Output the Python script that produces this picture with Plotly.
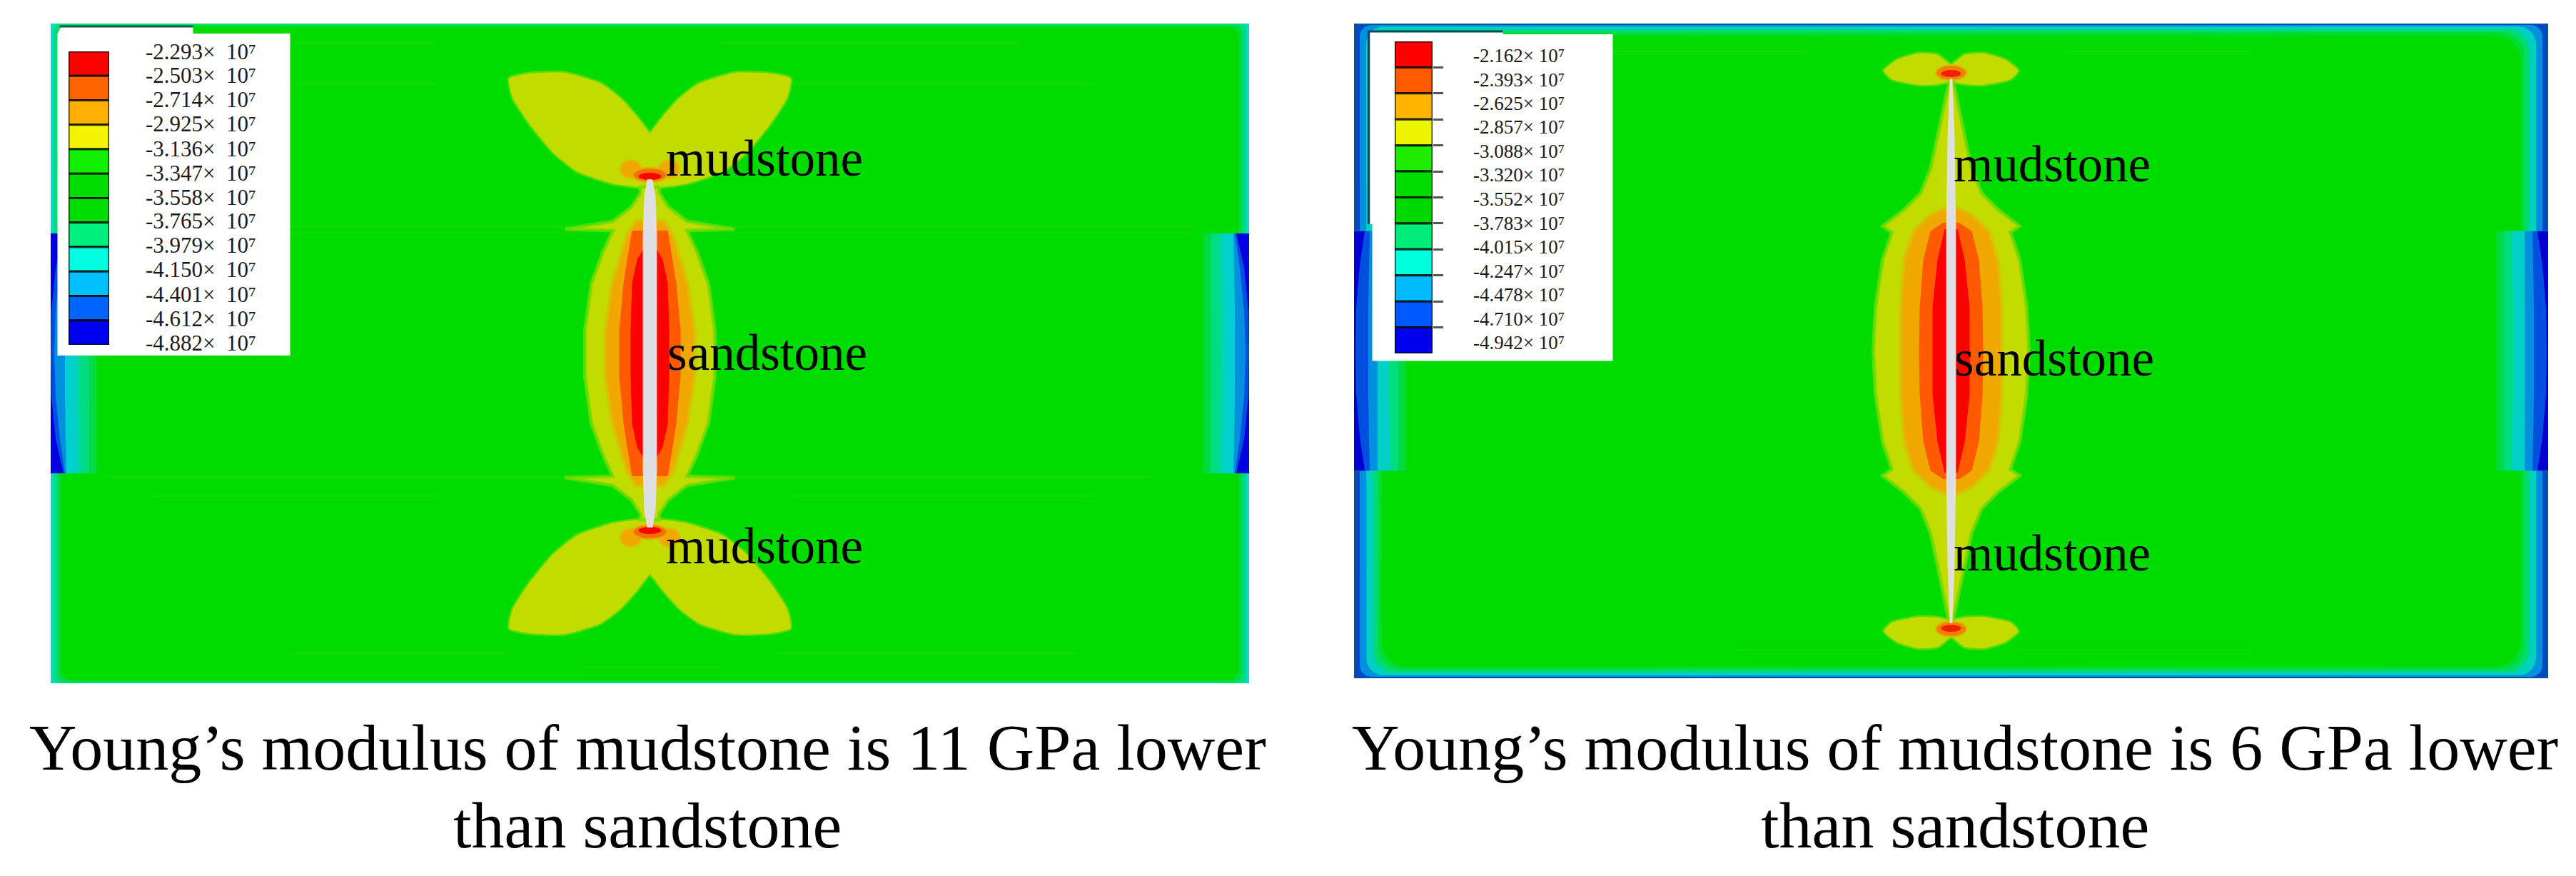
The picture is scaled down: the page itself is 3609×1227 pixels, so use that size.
import math
import plotly.graph_objects as go

W, H = 3609, 1227
FONT = "Liberation Serif"

# ---------- legend values ----------
LEVELS_A = ["-2.293", "-2.503", "-2.714", "-2.925", "-3.136", "-3.347", "-3.558",
            "-3.765", "-3.979", "-4.150", "-4.401", "-4.612", "-4.882"]
LEVELS_B = ["-2.162", "-2.393", "-2.625", "-2.857", "-3.088", "-3.320", "-3.552",
            "-3.783", "-4.015", "-4.247", "-4.478", "-4.710", "-4.942"]
SWATCH_A = ["#ff0000", "#ff6400", "#ffb000", "#f4f400", "#10f000", "#00dc00",
            "#00dc00", "#00f080", "#00ffe0", "#00c0ff", "#0064ff", "#0000f0"]
SWATCH_B = ["#ff0000", "#ff5a00", "#ffb400", "#ecf400", "#20ec00", "#00dc00",
            "#00d800", "#00ec78", "#00ffdc", "#00bcff", "#0058ff", "#0000ee"]
CAPTION_A = ["Young’s modulus of mudstone is 11 GPa lower", "than sandstone"]
CAPTION_B = ["Young’s modulus of mudstone is 6 GPa lower", "than sandstone"]

# ---------- field colours ----------
GREEN = "#00dc00"
YELLOW = "#c2dc00"
AMBER = "#f0a800"
ORANGE = "#ff5a00"
RED = "#ff0000"
HALO = "rgba(110,220,0,0.8)"
AMBER_HALO = "rgba(215,195,0,0.8)"

# ---------- model A (11 GPa): half widths of each stress band against height ----------
A_YELLOW_Y = [233, 225, 205, 185, 174, 172, 142, 98, 32, 0]
A_YELLOW_W = [14, 13, 26, 52, 119, 52, 66, 82, 91, 91]
A_AMBER_Y = [186, 165, 131, 98, 32, 0]
A_AMBER_W = [20, 33, 43, 53, 63, 63]
A_ORANGE_Y = [172, 131, 98, 32, 0]
A_ORANGE_W = [25, 32, 37, 43, 43]
A_RED_Y = [145, 131, 98, 32, 0]
A_RED_W = [10, 18, 25, 27, 27]
A_CRACK_Y = [243, 220, 165, 0]
A_CRACK_W = [3, 7, 9, 9]
A_LOBE_X = [0, 20, 42, 69, 119, 169, 197, 192, 169, 136, 102, 52, 16, 0]
A_LOBE_Y = [308, 334, 358, 378, 393, 392, 385, 358, 322, 282, 255, 238, 233, 233]
A_SPOT_OUT = (-27, 258, 15, 13)
A_SPOT_MID = (0, 250, 24, 10)
A_SPOT_RED = (0, 248, 16, 5)

# ---------- model B (6 GPa) ----------
B_YELLOW_Y = [381, 365, 301, 255, 221, 198, 175, 166, 128, 61, 0]
B_YELLOW_W = [2, 6, 19, 29, 43, 66, 96, 83, 96, 106, 109]
B_AMBER_Y = [201, 191, 168, 128, 61, 0]
B_AMBER_W = [8, 29, 53, 66, 71, 71]
B_ORANGE_Y = [180, 168, 128, 61, 0]
B_ORANGE_W = [11, 29, 39, 44, 45]
B_RED_Y = [171, 128, 61, 0]
B_RED_W = [9, 19, 26, 26]
B_CRACK_Y = [381, 300, 170, 0]
B_CRACK_W = [1, 4, 6, 6]
B_LOBE_X = [0, 19, 46, 76, 94, 83, 43, 19, 0]
B_LOBE_Y = [400, 415, 417, 408, 393, 381, 373, 374, 378]
B_SPOT_MID = (0, 390, 22, 11)
B_SPOT_RED = (0, 389, 14, 5)

# ---------- high compressive zones at the sandstone ends ----------
ZONE_Y = [168, 120, 60, 0, -60, -120, -168]
A_ZONES = [("#00dc40", [64, 64, 64, 64, 64, 64, 64]),
           ("#00dc80", [54, 54, 54, 54, 54, 54, 54]),
           ("#00d4b0", [42, 42, 41, 40, 41, 42, 42]),
           ("#00d0d0", [34, 34, 33, 32, 33, 34, 34]),
           ("#0090e0", [22, 21, 20, 20, 20, 21, 22]),
           ("#0050e0", [20, 13, 7, 5, 7, 13, 20]),
           ("#0000e0", [18, 7, 1, 0, 1, 7, 18])]
B_ZONES = [("#00dc40", [72, 72, 72, 72, 72, 72, 72]),
           ("#00dc80", [62, 62, 62, 62, 62, 62, 62]),
           ("#00d0c8", [50, 50, 49, 49, 49, 50, 50]),
           ("#0090e0", [33, 33, 33, 33, 33, 33, 33]),
           ("#0050e0", [22, 21, 20, 20, 20, 21, 22]),
           ("#0000d0", [15, 8, 3, 2, 3, 8, 15])]

# ---------- outer frame bands: colour, side depth, top depth, corner radius ----------
A_FRAME = [("#00dcc8", 0, 0, 0), ("#00dc78", 4, 0, 8), ("#00dc40", 10, 2, 12), (GREEN, 14, 4, 16)]
B_FRAME = [("#005a80", 0, 0, 0), ("#0048c8", 2, 1, 4), ("#0090e0", 8, 2, 16),
           ("#00d0c0", 17, 4, 25), ("#00dc70", 27, 8, 30), ("#00dc38", 33, 12, 33), (GREEN, 38, 16, 36)]

# faint streaks: height, from, to
A_STREAKS = [(435, -720, -300), (435, 100, 520), (378, -700, -300), (378, 180, 620),
             (178, -760, -110), (178, 110, 760), (168, -700, -100), (168, 110, 760),
             (-173, -760, -110), (-173, 110, 700), (-200, -700, -300), (-200, 200, 620),
             (-420, -500, -200), (-420, 180, 600), (-440, -100, 100)]
B_STREAKS = [(420, -500, -200), (420, 160, 420), (-420, -300, -80), (-420, 90, 420)]


def px(v):
    return v / W


def py(v):
    return 1 - v / H


def area(xs, ys, color, edge=None, edge_w=0, smooth=False, axis=""):
    line = dict(width=edge_w, color=edge or color)
    if smooth:
        line.update(shape="spline", smoothing=0.5)
    return go.Scatter(x=xs, y=ys, mode="lines", fill="toself", fillcolor=color,
                      line=line, hoverinfo="skip", showlegend=False,
                      xaxis="x" + axis, yaxis="y" + axis)


def band(ys, ws, color, axis, edge=None, edge_w=0):
    """Symmetric band about the crack, from half widths against height."""
    up_y = list(ys) + [-v for v in reversed(ys[:-1])]
    up_w = list(ws) + list(reversed(ws[:-1]))
    xs = up_w + [-v for v in reversed(up_w)]
    yy = up_y + list(reversed(up_y))
    return area(xs + xs[:1], yy + yy[:1], color, edge, edge_w, axis=axis)


def lobes(xs, ys, color, axis, edge, edge_w):
    out = []
    # halo pass, then a fill pass so that the halo does not split the lobes at the centre
    for e, w in ((edge, edge_w), (None, 0)):
        for sx in (1, -1):
            for sy in (1, -1):
                out.append(area([sx * v for v in xs], [sy * v for v in ys], color, e, w,
                                smooth=True, axis=axis))
    return out


def ellipse(spot, color, axis, edge=None, edge_w=0, mirror=(1, 1)):
    cx, cy, rx, ry = spot
    n = 36
    xs = [mirror[0] * (cx + rx * math.cos(2 * math.pi * i / n)) for i in range(n + 1)]
    ys = [mirror[1] * (cy + ry * math.sin(2 * math.pi * i / n)) for i in range(n + 1)]
    return area(xs, ys, color, edge, edge_w, axis=axis)


def frame(hw, hh, spec, axis):
    out = []
    for color, dx, dy, r in spec:
        x0, x1, y0, y1 = -hw + dx, hw - dx, -hh + dy, hh - dy
        xs, ys = [], []
        corners = [(x1 - r, y1 - r, 0), (x0 + r, y1 - r, 90), (x0 + r, y0 + r, 180), (x1 - r, y0 + r, 270)]
        for cx, cy, a0 in corners:
            for k in range(9):
                a = math.radians(a0 + k * 90 / 8)
                xs.append(cx + r * math.cos(a))
                ys.append(cy + r * math.sin(a))
        out.append(area(xs + xs[:1], ys + ys[:1], color, axis=axis))
    return out


def zones(hw, spec, axis):
    out = []
    for color, depth in spec:
        for side in (1, -1):
            xs = [side * (hw - d) for d in depth] + [side * hw, side * hw]
            ys = ZONE_Y + [ZONE_Y[-1], ZONE_Y[0]]
            out.append(area(xs + xs[:1], ys + ys[:1], color, axis=axis))
    return out


def streaks(spec, axis):
    xs, ys = [], []
    for y, a, b in spec:
        xs += [a, b, None]
        ys += [y, y, None]
    return go.Scatter(x=xs, y=ys, mode="lines", line=dict(color="rgba(70,220,0,0.25)", width=3),
                      hoverinfo="skip", showlegend=False, xaxis="x" + axis, yaxis="y" + axis)


fig = go.Figure()

# ===== panel A =====
ax = ""
fig.add_traces(frame(839.5, 462, A_FRAME, ax))
fig.add_traces(zones(839.5, A_ZONES, ax))
fig.add_trace(streaks(A_STREAKS, ax))
fig.add_traces(lobes(A_LOBE_X, A_LOBE_Y, YELLOW, ax, HALO, 5))
fig.add_trace(band(A_YELLOW_Y, A_YELLOW_W, YELLOW, ax, HALO, 5))
fig.add_trace(band(A_AMBER_Y, A_AMBER_W, AMBER, ax, AMBER_HALO, 5))
fig.add_trace(band(A_ORANGE_Y, A_ORANGE_W, ORANGE, ax))
fig.add_trace(band(A_RED_Y, A_RED_W, RED, ax))
for m in [(1, 1), (-1, 1), (1, -1), (-1, -1)]:
    fig.add_trace(ellipse(A_SPOT_OUT, AMBER, ax, "rgba(215,195,0,0.7)", 3, m))
for m in [(1, 1), (1, -1)]:
    fig.add_trace(ellipse(A_SPOT_MID, "#f07000", ax, "rgba(240,170,0,0.7)", 3, m))
    fig.add_trace(ellipse(A_SPOT_RED, RED, ax, mirror=m))
fig.add_trace(band(A_CRACK_Y, A_CRACK_W, "#dcdfe3", ax, "rgba(240,225,225,0.8)", 2))
# legend backing, drawn inside the panel
fig.add_trace(area([-825, -640, -640, -504, -504, -830, -830, -825],
                   [458, 458, 448, 448, -3, -3, 448, 458], "#ffffff", axis=ax))
fig.add_trace(go.Scatter(x=[-827, -640], y=[458, 458], mode="lines",
                         line=dict(color="#1c5a50", width=3), hoverinfo="skip", showlegend=False))

# ===== panel B =====
ax = "2"
fig.add_traces(frame(836.5, 459, B_FRAME, ax))
fig.add_traces(zones(836.5, B_ZONES, ax))
fig.add_trace(streaks(B_STREAKS, ax))
fig.add_traces(lobes(B_LOBE_X, B_LOBE_Y, YELLOW, ax, HALO, 5))
fig.add_trace(band(B_YELLOW_Y, B_YELLOW_W, YELLOW, ax, HALO, 5))
fig.add_trace(band(B_AMBER_Y, B_AMBER_W, AMBER, ax, AMBER_HALO, 5))
fig.add_trace(band(B_ORANGE_Y, B_ORANGE_W, ORANGE, ax))
fig.add_trace(band(B_RED_Y, B_RED_W, RED, ax))
for m in [(1, 1), (1, -1)]:
    fig.add_trace(ellipse(B_SPOT_MID, "#f08000", ax, "rgba(215,195,0,0.7)", 3, m))
    fig.add_trace(ellipse(B_SPOT_RED, "#f02000", ax, mirror=m))
fig.add_trace(band(B_CRACK_Y, B_CRACK_W, "#dcdfe3", ax, "rgba(240,225,225,0.8)", 2))
fig.add_trace(area([-814, -628, -628, -474, -474, -811, -811, -814],
                   [448, 448, 444, 444, -14, -14, 178, 178], "#ffffff", axis=ax))
fig.add_trace(go.Scatter(x=[-816, -816, -628], y=[178, 448, 448], mode="lines",
                         line=dict(color="#0a4a60", width=3), hoverinfo="skip", showlegend=False,
                         xaxis="x2", yaxis="y2"))

# ===== colour keys =====
for ax, colors in (("3", SWATCH_A), ("4", SWATCH_B)):
    fig.add_trace(go.Bar(x=[1] * len(colors), y=list(range(len(colors))), orientation="h", width=1,
                         marker=dict(color=colors, line=dict(color="rgba(0,10,0,0.8)", width=3)),
                         hoverinfo="skip", showlegend=False, xaxis="x" + ax, yaxis="y" + ax))


def domain(a, b, size):
    return [a / size, b / size]


hidden = dict(visible=False, fixedrange=True)
fig.update_layout(
    width=W, height=H, autosize=False,
    margin=dict(l=0, r=0, t=0, b=0, pad=0),
    paper_bgcolor="#ffffff", plot_bgcolor="rgba(0,0,0,0)",
    showlegend=False, barmode="overlay",
    xaxis=dict(domain=domain(71, 1750, W), range=[-839.5, 839.5], anchor="y", **hidden),
    yaxis=dict(domain=[py(957), py(33)], range=[-462, 462], anchor="x", **hidden),
    xaxis2=dict(domain=domain(1897, 3570, W), range=[-836.5, 836.5], anchor="y2", **hidden),
    yaxis2=dict(domain=[py(950), py(33)], range=[-459, 459], anchor="x2", **hidden),
    xaxis3=dict(domain=domain(96, 153, W), range=[0, 1], anchor="y3", **hidden),
    yaxis3=dict(domain=[py(483), py(72)], range=[11.5, -0.5], anchor="x3", **hidden),
    xaxis4=dict(domain=domain(1954, 2007, W), range=[0, 1], anchor="y4", **hidden),
    yaxis4=dict(domain=[py(495), py(58)], range=[11.5, -0.5], anchor="x4", fixedrange=True, visible=True,
                showgrid=False, zeroline=False, showline=False, side="right", ticks="outside",
                ticklen=14, tickwidth=3, tickcolor="#555555", showticklabels=False,
                tickvals=[i + 0.5 for i in range(len(SWATCH_B) - 1)]),
)


def note(x, y, text, size, color="#000000", anchor="left"):
    fig.add_annotation(xref="paper", yref="paper", x=px(x), y=py(y), text=text, showarrow=False,
                       xanchor=anchor, yanchor="middle", align=anchor,
                       font=dict(family=FONT, size=size, color=color), borderpad=0, borderwidth=0)


for i, lab in enumerate(LEVELS_A):
    note(204, 72 + i * 34, lab + "×\u00a0\u00a010⁷", 31, "#1a1a1a")
for i, lab in enumerate(LEVELS_B):
    note(2064, 78 + i * 33.5, lab + "×\u00a010⁷", 27, "#1a1a1a")

for x, y, t in [(933, 222, "mudstone"), (935, 494, "sandstone"), (933, 765, "mudstone"),
                (2737, 230, "mudstone"), (2738, 502, "sandstone"), (2737, 775, "mudstone")]:
    note(x, y, t, 71)

for cx, lines in ((907, CAPTION_A), (2739, CAPTION_B)):
    note(cx, 1047, lines[0], 92, anchor="center")
    note(cx, 1156, lines[1], 92, anchor="center")

fig.write_html("out.html", config=dict(displayModeBar=False),
               post_script="document.body.style.margin='0';")
